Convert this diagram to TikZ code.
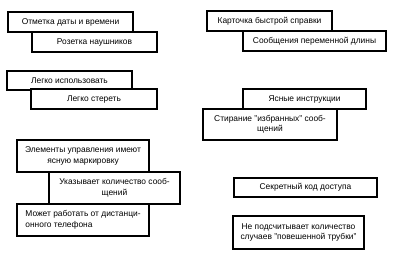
\documentclass[tikz,border=0pt]{standalone}
\usepackage{fontspec}
\setmainfont{Liberation Sans}
\usepackage{tikz}

\begin{document}
\begin{tikzpicture}[x=1pt, y=-1pt,
        card/.style={draw, line width=1.1pt, fill=white, inner sep=0pt,
            font=\fontsize{8.4}{10.5}\selectfont, align=center}]
        \useasboundingbox (0,0) rectangle (395,261);

        % Draw upper left pairs
        \begin{scope}
            \node[card, minimum width=125, minimum height=20] (datetime) at (70.5,22) {Отметка даты и времени};
            \node[card, minimum width=125, minimum height=20] (headphones) at (94.5,42) {Розетка наушников};
            \node[card, minimum width=125, minimum height=19] (easyuse) at (69.5,80.5) {Легко использовать};
            \node[card, minimum width=126, minimum height=20] (easyerase) at (94,99) {Легко стереть};
        \end{scope}

        % Draw upper right pairs
        \begin{scope}
            \node[card, minimum width=125, minimum height=20] (quickcard) at (269.5,21) {Карточка быстрой справки};
            \node[card, minimum width=143, minimum height=20] (varlength) at (314.5,41) {Сообщения переменной длины};
            \node[card, minimum width=123, minimum height=20] (instructions) at (304.5,99) {Ясные инструкции};
            \node[card, minimum width=134, minimum height=31] (favorites) at (270,124.5) {Стирание "избранных" сооб-\\щений};
        \end{scope}

        % Draw lower left stack
        \begin{scope}
            \node[card, minimum width=132, minimum height=32] (labeling) at (83,156) {Элементы управления имеют\\ясную маркировку};
            \node[card, minimum width=131, minimum height=32] (msgcount) at (114.5,188) {Указывает количество сооб-\\щений};
            \node[card, minimum width=132, minimum height=32, align=left] (remote) at (83,220) {Может работать от дистанци-\\онного телефона};
        \end{scope}

        % Draw lower right boxes
        \begin{scope}
            \node[card, minimum width=143, minimum height=19] (secretcode) at (305.5,187.5) {Секретный код доступа};
            \node[card, minimum width=131, minimum height=33] (hangups) at (298.5,232.5) {Не подсчитывает количество\\случаев "повешенной трубки"};
        \end{scope}
    \end{tikzpicture}
\end{document}
